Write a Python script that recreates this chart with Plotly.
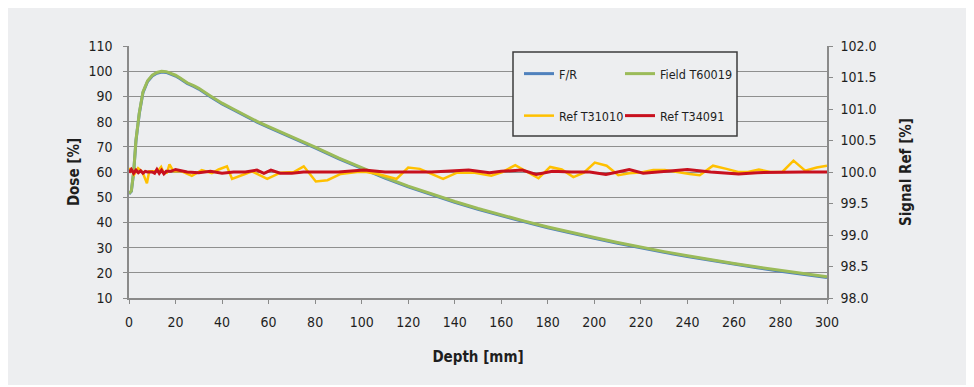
import plotly.graph_objects as go

# Dose curves (left axis)
depth_dose = [0, 1, 2, 3, 4.4, 6, 8, 10, 12, 14, 16, 18, 20, 22, 25, 28, 30, 35, 40, 45, 50,
              55, 60, 70, 75, 80, 90, 100, 110, 120, 130, 140, 150, 160, 170, 180, 190, 200,
              210, 220, 230, 240, 250, 260, 270, 280, 290, 300]
field_t60019 = [51.5, 52.5, 60.0, 72.7, 83.3, 91.8, 96.2, 98.4, 99.5, 100.0, 99.8, 99.2, 98.4,
                97.3, 95.4, 94.2, 93.2, 90.2, 87.3, 84.9, 82.4, 80.1, 78.0, 74.0, 71.8, 69.9,
                65.6, 61.6, 57.9, 54.4, 51.2, 48.3, 45.5, 42.9, 40.5, 38.2, 36.0, 34.0, 32.0,
                30.1, 28.4, 26.8, 25.2, 23.7, 22.3, 20.9, 19.6, 18.4]
fr = [51.3, 52.3, 59.7, 72.4, 83.0, 91.5, 95.9, 98.1, 99.2, 99.7, 99.5, 98.9, 98.1,
      97.0, 95.1, 93.9, 92.9, 89.9, 87.0, 84.6, 82.1, 79.8, 77.7, 73.7, 71.5, 69.6,
      65.3, 61.3, 57.6, 54.1, 50.9, 48.0, 45.2, 42.6, 40.2, 37.9, 35.7, 33.7, 31.7,
      29.8, 28.1, 26.5, 24.9, 23.4, 22.0, 20.6, 19.3, 18.1]

# Reference signals (right axis)
depth_t31010 = [0, 0.6, 2.2, 3.9, 5.8, 7.7, 8.7, 12.3, 13.8, 15, 16.3, 17.4, 19.1, 22.7, 27,
                31.3, 35.6, 38.5, 42.1, 44.3, 50.7, 52.9, 59.4, 65.1, 70.8, 75.1, 80.3, 85.3,
                91, 98, 102, 107.8, 115, 120, 125, 135, 141, 148, 155.7, 160.5, 166, 171, 176,
                181, 186, 191, 195.5, 200.2, 205.3, 210.3, 215, 219.6, 225.3, 230.3, 236.8,
                241, 245.3, 251, 256.8, 261.8, 266, 270.7, 275.7, 280.8, 285.6, 290.6, 295.6, 300]
ref_t31010 = [99.99, 100.06, 99.96, 100.06, 100.0, 99.82, 100.01, 100.01, 100.08, 99.98, 99.99,
              100.12, 100.01, 100.01, 99.94, 100.03, 99.98, 100.04, 100.09, 99.89, 99.98, 100.01,
              99.89, 99.99, 100.0, 100.09, 99.85, 99.87, 99.97, 100.0, 100.0, 99.96, 99.89, 100.07,
              100.05, 99.89, 99.99, 99.99, 99.94, 100.0, 100.11, 100.0, 99.9, 100.08, 100.04, 99.92,
              99.99, 100.15, 100.1, 99.95, 99.98, 99.99, 100.03, 100.03, 99.99, 99.97, 99.95, 100.1,
              100.05, 100.0, 100.0, 100.04, 100.0, 100.0, 100.18, 100.02, 100.07, 100.1]

depth_t34091 = [0, 1, 2, 3, 4, 5, 6, 7, 8, 10, 11, 12, 13, 14, 15, 16, 18, 20, 25, 30, 35, 40,
                45, 50, 55, 58, 61, 65, 70, 75, 80, 90, 101, 110, 120, 130, 146, 155, 160, 169,
                175, 182, 190, 198, 205, 215, 221, 228, 240, 250, 262, 270, 280, 290, 300]
ref_t34091 = [99.99, 100.04, 99.98, 100.03, 99.99, 100.02, 99.98, 100.01, 100.0, 100.0, 99.98,
              100.04, 99.98, 100.03, 99.97, 100.01, 100.01, 100.04, 100.0, 99.99, 100.01, 99.98,
              100.0, 100.0, 100.03, 99.98, 100.03, 99.98, 99.98, 100.0, 100.0, 100.0, 100.03,
              100.0, 100.0, 100.0, 100.03, 99.99, 100.01, 100.03, 99.96, 100.01, 100.0, 100.0,
              99.96, 100.04, 99.98, 100.0, 100.04, 100.0, 99.97, 99.99, 100.0, 100.0, 100.0]

x_ticks = list(range(0, 301, 20))

FONT = "DejaVu Sans Condensed, Liberation Sans Narrow, Arial Narrow, sans-serif"
BG = "#edeef0"
TXT = "#1e1e1e"

fig = go.Figure()
fig.add_trace(go.Scatter(x=depth_dose, y=fr, name="F/R", mode="lines",
                         line=dict(color="#4f81bd", width=3), legend="legend"))
fig.add_trace(go.Scatter(x=depth_dose, y=field_t60019, name="Field T60019", mode="lines",
                         line=dict(color="#9bbb59", width=3), legend="legend2"))
fig.add_trace(go.Scatter(x=depth_t31010, y=ref_t31010, name="Ref T31010", mode="lines",
                         line=dict(color="#ffc000", width=2.5), yaxis="y2", legend="legend3"))
fig.add_trace(go.Scatter(x=depth_t34091, y=ref_t34091, name="Ref T34091", mode="lines",
                         line=dict(color="#c8101e", width=3), yaxis="y2", legend="legend4"))

W, H = 974, 387
OFF = 8  # page body margin in the browser
L, R, T, B = 129, 827, 46, 298  # target plot area on screen
pw, ph = R - L, B - T


def px(x):
    return (x - L) / pw


def py(y):
    return (B - y) / ph


def leg(xs, ys):
    return dict(orientation="h", x=px(xs), y=py(ys), xanchor="left", yanchor="middle",
                bgcolor="rgba(0,0,0,0)", borderwidth=0, font=dict(size=12.5, color=TXT),
                visible=True)


fig.update_layout(
    width=W, height=H,
    showlegend=True,
    margin=dict(l=L - OFF, r=W - R + OFF, t=T - OFF, b=H - B + OFF, pad=0),
    paper_bgcolor="white",
    plot_bgcolor="rgba(0,0,0,0)",
    font=dict(family=FONT, size=14, color=TXT),
    xaxis=dict(range=[0, 300], tickvals=x_ticks, showgrid=False, zeroline=False,
               showline=True, linecolor="#8a8a8a", linewidth=1.5,
               ticks="outside", ticklen=4, tickcolor="#8a8a8a", ticklabelstandoff=6,
               tickfont=dict(size=14, color=TXT),
               title=dict(text="<b>Depth [mm]</b>", standoff=23,
                          font=dict(size=15, color=TXT))),
    yaxis=dict(range=[10, 110], dtick=10, showgrid=True, gridcolor="#8f8f8f", gridwidth=1,
               zeroline=False, showline=True, linecolor="#8a8a8a", linewidth=1.5,
               ticks="outside", ticklen=4, tickcolor="#8a8a8a", ticklabelstandoff=8,
               tickfont=dict(size=14, color=TXT),
               title=dict(text="<b>Dose [%]</b>", standoff=5,
                          font=dict(size=15, color=TXT))),
    yaxis2=dict(range=[98, 102], dtick=0.5, tickformat=".1f", overlaying="y", side="right",
                showgrid=False, zeroline=False, showline=True, linecolor="#8a8a8a",
                linewidth=1.5, ticks="outside", ticklen=4, tickcolor="#8a8a8a",
                ticklabelstandoff=5,
                tickfont=dict(size=14, color=TXT),
                title=dict(text="<b>Signal Ref [%]</b>", standoff=25,
                           font=dict(size=15, color=TXT))),
    legend=leg(519, 74),
    legend2=leg(620, 74),
    legend3=leg(519, 116),
    legend4=leg(620, 116),
    shapes=[
        dict(type="rect", xref="paper", yref="paper", layer="below",
             x0=px(1), x1=px(972), y0=py(385), y1=py(3),
             fillcolor=BG, line=dict(width=0)),
        dict(type="rect", xref="paper", yref="paper", layer="above",
             x0=px(513), x1=px(737), y0=py(136), y1=py(52),
             fillcolor=BG, line=dict(color="#3c3c3c", width=1.5)),
    ],
)

fig.write_html("out.html")
